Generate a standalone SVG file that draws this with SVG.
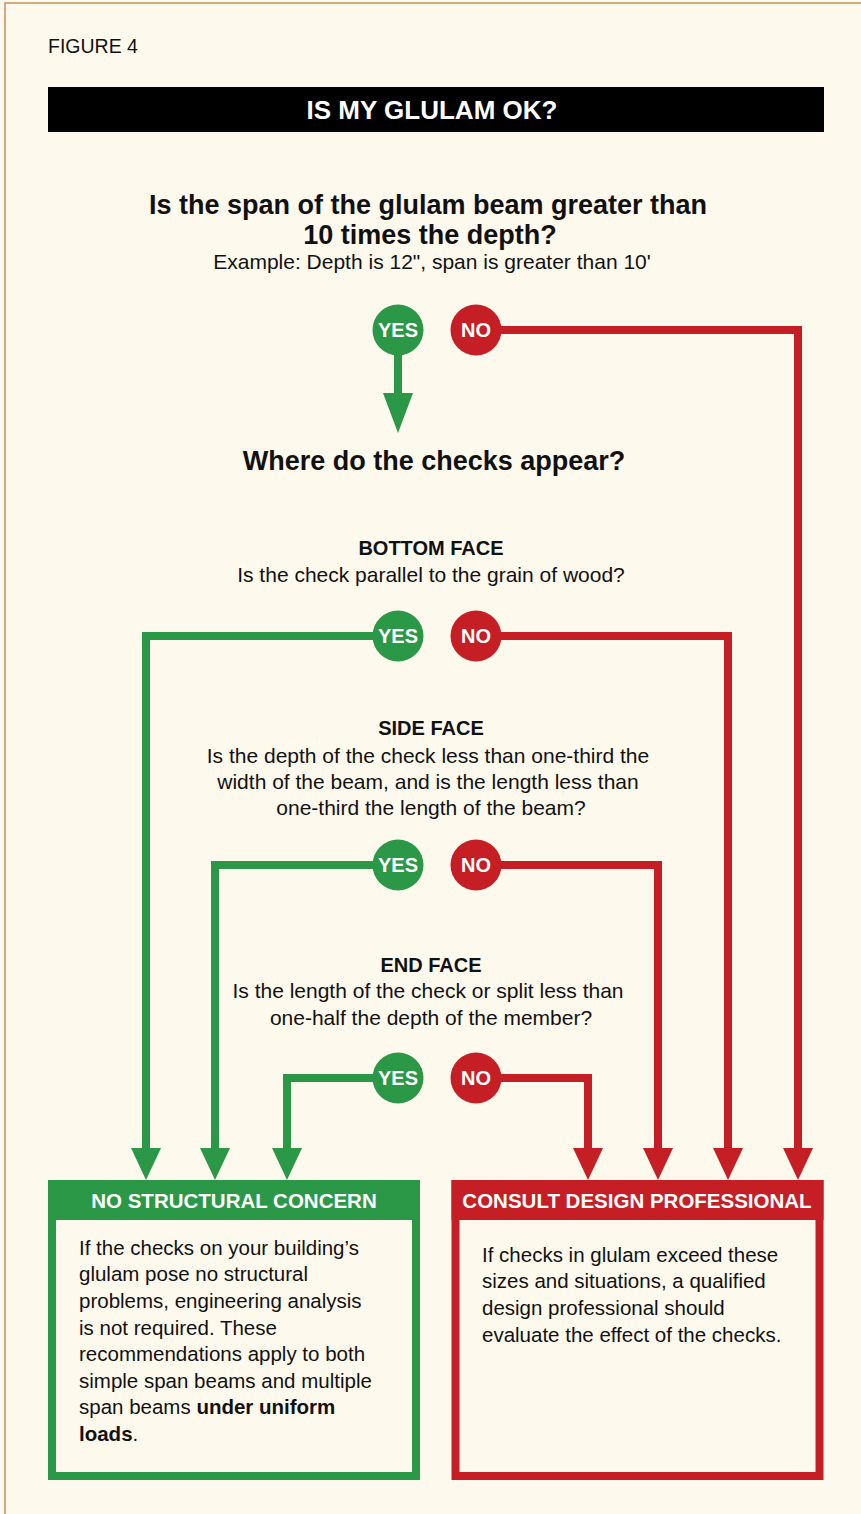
<svg xmlns="http://www.w3.org/2000/svg" width="861" height="1514" viewBox="0 0 861 1514">
<style>
.t{font-family:"Liberation Sans",Arial,sans-serif;fill:#111;}
.b{font-weight:bold;}
.q{font-size:27px;font-weight:bold;text-anchor:middle;}
.h{font-size:20px;font-weight:bold;text-anchor:middle;}
.r{font-size:21px;text-anchor:middle;}
.body{font-size:20.5px;}
.yn{font-family:"Liberation Sans",Arial,sans-serif;font-size:20px;font-weight:bold;fill:#fff;text-anchor:middle;}
.hd{font-family:"Liberation Sans",Arial,sans-serif;font-size:20.5px;font-weight:bold;fill:#fff;text-anchor:middle;}
.g{fill:#2b9847;}
.rd{fill:#c51e24;}
.cg{fill:none;stroke:#2b9847;stroke-width:8;}
.cr{fill:none;stroke:#c51e24;stroke-width:8;}
</style>
<defs>
<marker id="ag" markerUnits="userSpaceOnUse" markerWidth="34" markerHeight="30" refX="2" refY="15" orient="auto"><path d="M0,0 L32,15 L0,30 z" fill="#2b9847"/></marker>
<marker id="agL" markerUnits="userSpaceOnUse" markerWidth="42" markerHeight="30" refX="2" refY="15" orient="auto"><path d="M0,0 L40,15 L0,30 z" fill="#2b9847"/></marker>
<marker id="ar" markerUnits="userSpaceOnUse" markerWidth="34" markerHeight="30" refX="2" refY="15" orient="auto"><path d="M0,0 L32,15 L0,30 z" fill="#c51e24"/></marker>
</defs>
<rect x="0" y="0" width="861" height="1514" fill="#fef9ed"/>
<path d="M5,1514 V3 H861" fill="none" stroke="#c98f5c" stroke-width="1.5"/>

<g id="header">
<text class="t" x="48" y="53" font-size="19.5">FIGURE 4</text>
<rect x="48" y="87" width="776" height="45" fill="#000"/>
<text x="432" y="119" font-family="Liberation Sans,Arial,sans-serif" font-size="26" font-weight="bold" fill="#fff" text-anchor="middle">IS MY GLULAM OK?</text>
</g>

<g id="connectors">
<path class="cr" d="M500,330 H798 V1150" marker-end="url(#ar)"/>
<path class="cg" d="M398,354 V395" marker-end="url(#agL)"/>
<path class="cg" d="M374,636 H146 V1150" marker-end="url(#ag)"/>
<path class="cr" d="M500,636 H728 V1150" marker-end="url(#ar)"/>
<path class="cg" d="M374,865 H215 V1150" marker-end="url(#ag)"/>
<path class="cr" d="M500,865 H658 V1150" marker-end="url(#ar)"/>
<path class="cg" d="M374,1078 H287 V1150" marker-end="url(#ag)"/>
<path class="cr" d="M500,1078 H588 V1150" marker-end="url(#ar)"/>
</g>

<g id="q1">
<text class="t q" x="428" y="214">Is the span of the glulam beam greater than</text>
<text class="t q" x="430" y="244">10 times the depth?</text>
<text class="t r" x="432" y="269">Example: Depth is 12", span is greater than 10'</text>
</g>
<g id="yes1"><circle class="g" cx="398" cy="330" r="25.5"/><text class="yn" x="398" y="337">YES</text></g>
<g id="no1"><circle class="rd" cx="476" cy="330" r="25.5"/><text class="yn" x="476" y="337">NO</text></g>

<g id="q2">
<text class="t q" x="434" y="470">Where do the checks appear?</text>
</g>

<g id="bottom-face">
<text class="t h" x="431" y="555">BOTTOM FACE</text>
<text class="t r" x="431" y="582">Is the check parallel to the grain of wood?</text>
</g>
<g id="yes2"><circle class="g" cx="398" cy="636" r="25.5"/><text class="yn" x="398" y="643">YES</text></g>
<g id="no2"><circle class="rd" cx="476" cy="636" r="25.5"/><text class="yn" x="476" y="643">NO</text></g>

<g id="side-face">
<text class="t h" x="431" y="735">SIDE FACE</text>
<text class="t r" x="428" y="763">Is the depth of the check less than one-third the</text>
<text class="t r" x="428" y="789">width of the beam, and is the length less than</text>
<text class="t r" x="431" y="815">one-third the length of the beam?</text>
</g>
<g id="yes3"><circle class="g" cx="398" cy="865" r="25.5"/><text class="yn" x="398" y="872">YES</text></g>
<g id="no3"><circle class="rd" cx="476" cy="865" r="25.5"/><text class="yn" x="476" y="872">NO</text></g>

<g id="end-face">
<text class="t h" x="431" y="972">END FACE</text>
<text class="t r" x="428" y="998">Is the length of the check or split less than</text>
<text class="t r" x="431" y="1025">one-half the depth of the member?</text>
</g>
<g id="yes4"><circle class="g" cx="398" cy="1078" r="25.5"/><text class="yn" x="398" y="1085">YES</text></g>
<g id="no4"><circle class="rd" cx="476" cy="1078" r="25.5"/><text class="yn" x="476" y="1085">NO</text></g>

<g id="no-concern">
<rect x="52" y="1184" width="364" height="292" fill="none" stroke="#2b9847" stroke-width="8"/>
<rect class="g" x="48" y="1180" width="372" height="40"/>
<text class="hd" x="234" y="1208">NO STRUCTURAL CONCERN</text>
<text class="t body" x="79" y="1255">If the checks on your building’s</text>
<text class="t body" x="79" y="1281">glulam pose no structural</text>
<text class="t body" x="79" y="1308">problems, engineering analysis</text>
<text class="t body" x="79" y="1335">is not required. These</text>
<text class="t body" x="79" y="1361">recommendations apply to both</text>
<text class="t body" x="79" y="1388">simple span beams and multiple</text>
<text class="t body" x="79" y="1414">span beams <tspan class="b">under uniform</tspan></text>
<text class="t body" x="79" y="1441"><tspan class="b">loads</tspan>.</text>
</g>

<g id="consult">
<rect x="455.5" y="1184" width="364" height="292" fill="none" stroke="#c51e24" stroke-width="8"/>
<rect class="rd" x="451.5" y="1180" width="372" height="40"/>
<text class="hd" x="637" y="1208">CONSULT DESIGN PROFESSIONAL</text>
<text class="t body" x="482" y="1262">If checks in glulam exceed these</text>
<text class="t body" x="482" y="1288">sizes and situations, a qualified</text>
<text class="t body" x="482" y="1315">design professional should</text>
<text class="t body" x="482" y="1342">evaluate the effect of the checks.</text>
</g>
</svg>
